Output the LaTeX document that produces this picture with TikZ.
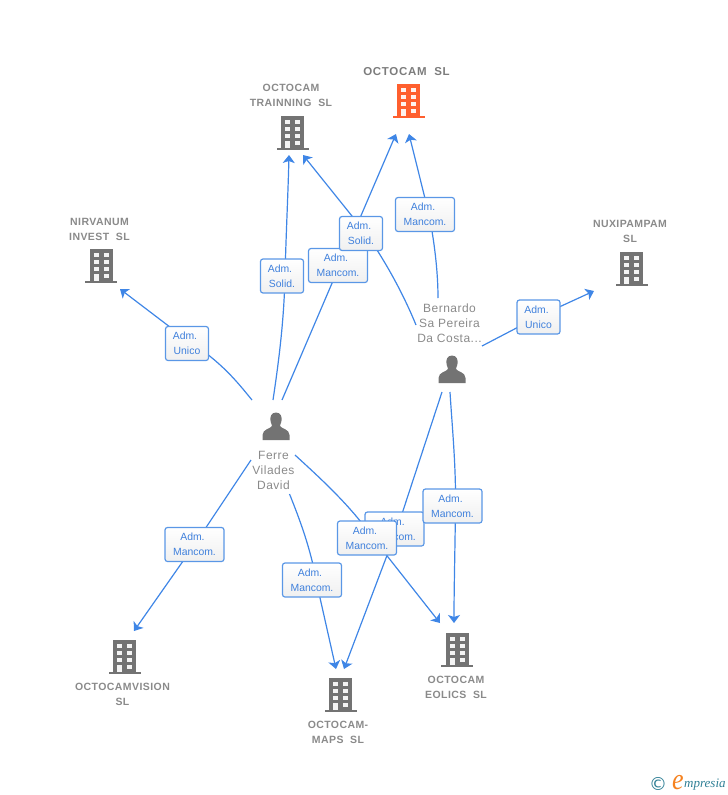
\documentclass[tikz,border=0pt]{standalone}
\usepackage{fontspec}
\setmainfont{Liberation Sans}
\newfontfamily\symfont{DejaVu Sans}
\newfontfamily\logofont{Liberation Serif}
\usetikzlibrary{arrows.meta,shadings}
\definecolor{linkblue}{HTML}{3F86E6}
\definecolor{boxedge}{HTML}{5A97E6}
\definecolor{txtblue}{HTML}{3F80DC}
\definecolor{iconGray}{HTML}{737373}
\definecolor{nameGray}{HTML}{8A8A8A}
\definecolor{hot}{HTML}{FF5F2E}
\definecolor{logoTeal}{HTML}{2F7F95}
\definecolor{logoOrange}{HTML}{F58220}
\newcommand\admline{Adm.\kern4pt}
\tikzset{
  x=1pt,y=-1pt,
  link/.style={draw=linkblue,line width=1.2pt},
  linkarrow/.style={link,-{Stealth[length=8pt,width=12pt,inset=2pt]}},
  rolebox/.style={draw=boxedge,line width=1.2pt,rounded corners=2.5pt,top color=white,bottom color=black!6,
    text=txtblue,font=\fontsize{10.4}{15}\selectfont,align=center,minimum height=34pt,inner sep=0pt},
  wide/.style={rolebox,minimum width=59pt},
  narrow/.style={rolebox,minimum width=43pt},
  entname/.style={text=nameGray,font=\fontsize{10.5}{15}\selectfont\bfseries\addfontfeature{LetterSpace=4},align=center,inner sep=0pt},
  hotname/.style={text=nameGray!90!black,font=\fontsize{11.5}{15}\selectfont\bfseries\addfontfeature{LetterSpace=6},align=center,inner sep=0pt},
  person/.style={text=nameGray,font=\fontsize{12}{15}\selectfont\addfontfeature{LetterSpace=4},align=center,inner sep=0pt},
  pics/bldg/.style={code={
    \fill[#1] (-11.5,-17) rectangle (11.5,16);
    \fill[#1] (-16,15) rectangle (16,17);
    \foreach \cx in {-7.5,2.5}{\foreach \cy in {-13,-6,1}{
      \fill[white!92!#1] (\cx,\cy) rectangle ++(5,4.2);}}
    \fill[white!92!#1] (-7.5,8) rectangle ++(5,7);
    \fill[white!92!#1] (2.5,8) rectangle ++(5,4.2);
  }},
  pics/man/.style={code={
    \fill[iconGray] (0,-14.5) .. controls (-5,-14.5) and (-6,-10) .. (-5.5,-6.5)
      .. controls (-5,-3) and (-4,-2.5) .. (-4,-1) .. controls (-5,1.5) and (-13.5,2) .. (-13.5,8)
      -- (-13.5,13) -- (13.5,13) -- (13.5,8)
      .. controls (13.5,2) and (5,1.5) .. (4,-1) .. controls (4,-2.5) and (5,-3) .. (5.5,-6.5)
      .. controls (6,-10) and (5,-14.5) .. (0,-14.5) -- cycle;
  }}
}
\begin{document}
\begin{tikzpicture}
\useasboundingbox (0,0) rectangle (728,795);
% free connector ends
\coordinate (fNW) at (252,400);
\coordinate (fN1) at (273,400);
\coordinate (fN2) at (282,400);
\coordinate (fE) at (295,455);
\coordinate (fS) at (289.5,494);
\coordinate (fSW) at (251,460);
\coordinate (bN) at (438,298);
\coordinate (bNW) at (416,325);
\coordinate (bE) at (482,346);
\coordinate (bS1) at (450,392);
\coordinate (bS2) at (442,392);
\coordinate (tNirv) at (120,289);
\coordinate (tTrain1) at (289,155);
\coordinate (tTrain2) at (303,155);
\coordinate (tHot1) at (396,134);
\coordinate (tHot2) at (409,134);
\coordinate (tNuxi) at (594,291);
\coordinate (tEol1) at (440,623);
\coordinate (tEol2) at (454,623);
\coordinate (tMaps1) at (336,669);
\coordinate (tMaps2) at (344,669);
\coordinate (tVis) at (134,631);
% where each connector crosses its role box
\coordinate (vA) at (187,340);
\coordinate (vB) at (285,276);
\coordinate (vC) at (339.6,265.5);
\coordinate (vD) at (366,233.5);
\coordinate (vE) at (429,214.5);
\coordinate (vF) at (538.5,316.5);
\coordinate (vG) at (455.5,506);
\coordinate (vH) at (397,529);
\coordinate (vI) at (373,538);
\coordinate (vJ) at (316,580);
\coordinate (vK) at (195,544);
% connectors
\draw[link] (fNW) .. controls (238,383) and (222,362) .. (vA);
\draw[linkarrow] (vA) -- (tNirv);
\draw[link] (fN1) .. controls (279,360) and (284,320) .. (vB);
\draw[linkarrow] (vB) .. controls (286,235) and (288,195) .. (tTrain1);
\draw[link] (fN2) -- (vC);
\draw[linkarrow] (vC) -- (tHot1);
\draw[link] (bNW) .. controls (405,298) and (388,265) .. (vD);
\draw[linkarrow] (vD) -- (tTrain2);
\draw[link] (bN) .. controls (438,270) and (434,240) .. (vE);
\draw[linkarrow] (vE) -- (tHot2);
\draw[link] (bE) -- (vF);
\draw[linkarrow] (vF) -- (tNuxi);
\draw[link] (bS1) .. controls (452,425) and (456,465) .. (vG);
\draw[linkarrow] (vG) .. controls (455,550) and (454,590) .. (tEol2);
\draw[link] (bS2) -- (vH);
\draw[linkarrow] (vH) -- (tMaps2);
\draw[link] (fE) .. controls (320,478) and (350,505) .. (vI);
\draw[linkarrow] (vI) -- (tEol1);
\draw[link] (fS) .. controls (300,520) and (311,550) .. (vJ);
\draw[linkarrow] (vJ) -- (tMaps1);
\draw[link] (fSW) -- (vK);
\draw[linkarrow] (vK) -- (tVis);
% role boxes
\node[narrow] (boxA) at (187,343.5) {\admline\\Unico};
\node[narrow] (boxB) at (282,276) {\admline\\Solid.};
\node[wide] (boxC) at (338,265.5) {\admline\\Mancom.};
\node[narrow] (boxD) at (361,233.5) {\admline\\Solid.};
\node[wide] (boxE) at (425,214.5) {\admline\\Mancom.};
\node[narrow] (boxF) at (538.5,317) {\admline\\Unico};
\node[wide] (boxH) at (394.5,529) {\admline\\Mancom.};
\node[wide] (boxG) at (452.5,506) {\admline\\Mancom.};
\node[wide] (boxI) at (367,538) {\admline\\Mancom.};
\node[wide] (boxJ) at (312,580) {\admline\\Mancom.};
\node[wide] (boxK) at (194.5,544.5) {\admline\\Mancom.};
% icons
\pic at (408.5,101) {bldg=hot};
\pic at (292.5,133) {bldg=iconGray};
\pic at (101,266) {bldg=iconGray};
\pic at (631.5,269) {bldg=iconGray};
\pic at (124.5,657) {bldg=iconGray};
\pic at (340.5,695) {bldg=iconGray};
\pic at (457,649.5) {bldg=iconGray};
\pic at (452,370) {man};
\pic at (276,427) {man};
% names
\node[hotname] (nHot) at (406.5,71.5) {OCTOCAM\ \ SL};
\node[entname] (nTrain) at (291,95) {OCTOCAM\\TRAINNING\ \ SL};
\node[entname] (nNirv) at (99.5,229) {NIRVANUM\\INVEST\ \ SL};
\node[entname] (nNuxi) at (630,231) {NUXIPAMPAM\\SL};
\node[entname] (nVis) at (122.5,694) {OCTOCAMVISION\\SL};
\node[entname] (nMaps) at (338,732) {OCTOCAM-\\MAPS\ \ SL};
\node[entname] (nEol) at (456,687) {OCTOCAM\\EOLICS\ \ SL};
\node[person] (pB) at (449.5,323) {Bernardo\\Sa Pereira\\Da Costa...};
\node[person] (pF) at (273.5,470) {Ferre\\Vilades\\David};
% logo
\node[inner sep=0pt,text=logoTeal,font=\symfont\fontsize{18}{18}\selectfont] (logoC) at (658,784) {©};
\node[inner sep=0pt,text=logoOrange,font=\logofont\itshape\fontsize{20}{20}\selectfont] (logoE) at (678,783) {\scalebox{1.3}[1.5]{e}};
\node[inner sep=0pt,text=logoTeal,anchor=west,font=\logofont\itshape\fontsize{13}{13}\selectfont] (logoT) at (684,785) {mpresia};
\end{tikzpicture}
\end{document}
